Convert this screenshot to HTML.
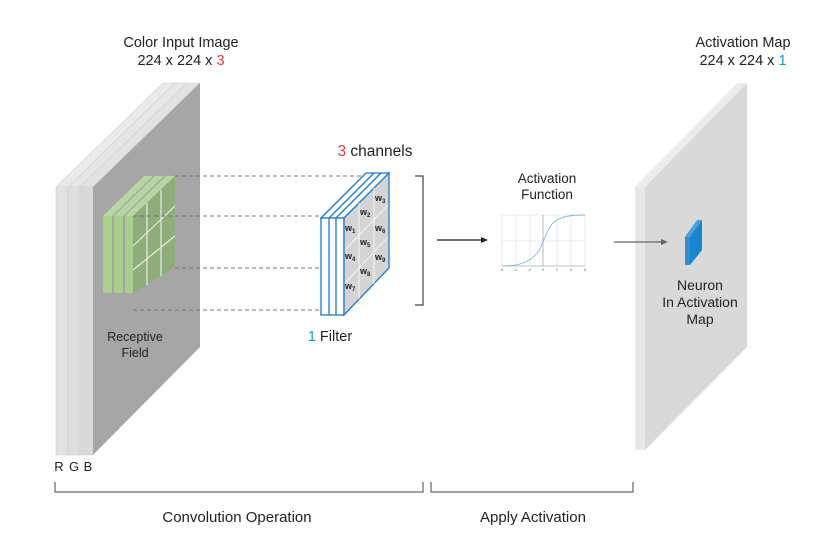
<!DOCTYPE html>
<html><head><style>
body{margin:0;background:#fff;}
svg text{font-family:"Liberation Sans",sans-serif;}
</style></head><body>
<svg width="833" height="550" viewBox="0 0 833 550" xmlns="http://www.w3.org/2000/svg">
<!-- input stack -->
<polygon points="56,187 163,83 175,83 68,187" fill="#eaeaea" stroke="#d0d0d0" stroke-width="0.6"/>
<polygon points="56,187 68,187 68,455 56,455" fill="#e2e2e2" stroke="#d0d0d0" stroke-width="0.6"/>
<polygon points="68,187 175,83 187,83 80,187" fill="#e6e6e6" stroke="#d0d0d0" stroke-width="0.6"/>
<polygon points="68,187 80,187 80,455 68,455" fill="#dedede" stroke="#d0d0d0" stroke-width="0.6"/>
<polygon points="80,187 187,83 200,83 93,187" fill="#e2e2e2" stroke="#d0d0d0" stroke-width="0.6"/>
<polygon points="80,187 93,187 93,455 80,455" fill="#d9d9d9" stroke="#d0d0d0" stroke-width="0.6"/>
<polygon points="93,187 200,83 200,347 93,455" fill="#a6a6a6"/>
<!-- receptive field -->
<polygon points="103,216 144,176 153,176 112,216" fill="#b7d7a0"/>
<rect x="103" y="216" width="9" height="77" fill="#a9d08e"/>
<polygon points="114,216 155,176 164,176 123,216" fill="#b7d7a0"/>
<rect x="114" y="216" width="9" height="77" fill="#a9d08e"/>
<polygon points="125,216 166,176 175,176 133,216" fill="#b7d7a0"/>
<rect x="125" y="216" width="8" height="77" fill="#a9d08e"/>
<polygon points="133,216 175,176 175,267 133,293" fill="#8fac7b"/>
<g stroke="#e8f0e0" stroke-width="1.2">
<line x1="147" y1="203" x2="147" y2="285"/><line x1="161" y1="190" x2="161" y2="276"/>
<line x1="133" y1="246" x2="175" y2="206"/><line x1="133" y1="270" x2="175" y2="236"/>
</g>
<!-- dashed lines -->
<g stroke="#777" stroke-width="1" stroke-dasharray="4,3">
<line x1="175" y1="176" x2="362" y2="176"/>
<line x1="133" y1="216" x2="320" y2="216"/>
<line x1="175" y1="268" x2="320" y2="268"/>
<line x1="133" y1="310" x2="320" y2="310"/>
</g>
<!-- filter -->
<g stroke="#1f78c8" stroke-width="1.3" fill="#fff">
<polygon points="321,218 366,173 389,173 344,218"/>
<rect x="321" y="218" width="23" height="97"/>
<line x1="329" y1="218" x2="329" y2="315"/><line x1="336" y1="218" x2="336" y2="315"/>
<line x1="329" y1="218" x2="374" y2="173"/><line x1="336" y1="218" x2="381" y2="173"/>
<polygon points="344,218 389,173 389,268 344,315" fill="#d4d4d4"/>
</g>
<g stroke="#f4f4f4" stroke-width="1">
<line x1="359" y1="203" x2="359" y2="299"/><line x1="374" y1="188" x2="374" y2="284"/>
<line x1="345" y1="250" x2="388" y2="205"/><line x1="345" y1="283" x2="388" y2="237"/>
</g>
<g font-size="9" font-weight="bold" fill="#222">
<text x="345" y="231">w<tspan font-size="6" dy="2">1</tspan></text>
<text x="360" y="215">w<tspan font-size="6" dy="2">2</tspan></text>
<text x="375" y="201">w<tspan font-size="6" dy="2">3</tspan></text>
<text x="345" y="259">w<tspan font-size="6" dy="2">4</tspan></text>
<text x="360" y="245">w<tspan font-size="6" dy="2">5</tspan></text>
<text x="375" y="231">w<tspan font-size="6" dy="2">6</tspan></text>
<text x="345" y="289">w<tspan font-size="6" dy="2">7</tspan></text>
<text x="360" y="274">w<tspan font-size="6" dy="2">8</tspan></text>
<text x="375" y="260">w<tspan font-size="6" dy="2">9</tspan></text>
</g>
<!-- bracket -->
<path d="M415,176 H423 V305 H415" fill="none" stroke="#444" stroke-width="1.2"/>
<line x1="437" y1="240" x2="482" y2="240" stroke="#222" stroke-width="1.2"/>
<polygon points="488,240 481,237 481,243" fill="#222"/>
<!-- sigmoid chart -->
<g stroke="#ddd" stroke-width="0.6">
<line x1="502" y1="215" x2="502" y2="266"/><line x1="516" y1="215" x2="516" y2="266"/>
<line x1="530" y1="215" x2="530" y2="266"/><line x1="557" y1="215" x2="557" y2="266"/>
<line x1="571" y1="215" x2="571" y2="266"/><line x1="585" y1="215" x2="585" y2="266"/>
<line x1="502" y1="215" x2="585" y2="215"/><line x1="502" y1="241" x2="585" y2="241"/>
</g>
<line x1="543" y1="215" x2="543" y2="266" stroke="#888" stroke-width="0.6"/>
<line x1="502" y1="266" x2="585" y2="266" stroke="#888" stroke-width="0.6"/>
<path d="M502,266 C520,266 530,262 538,252 C543,244 546,232 552,224 C560,216 570,215 585,215" fill="none" stroke="#8ab4d8" stroke-width="0.9"/>
<g font-size="3.5" fill="#555"><text x="500" y="271">-6</text><text x="514" y="271">-4</text><text x="528" y="271">-2</text><text x="542" y="271">0</text><text x="556" y="271">2</text><text x="570" y="271">4</text><text x="584" y="271">6</text></g>
<!-- activation map -->
<polygon points="635,187 737,83 747,83 645,187" fill="#ececec"/>
<rect x="635" y="187" width="10" height="263" fill="#e8e8e8"/>
<polygon points="645,187 747,83 747,347 645,450" fill="#d9d9d9"/>
<polygon points="685,237 697,220 702,220 690,237" fill="#4aa0d8"/>
<polygon points="685,237 690,237 690,265 685,265" fill="#2f8fd0"/>
<polygon points="690,237 702,220 702,250 690,265" fill="#1a85cf"/>
<line x1="614" y1="242" x2="662" y2="242" stroke="#666" stroke-width="1.2"/>
<polygon points="668,242 661,239 661,245" fill="#666"/>
<!-- labels -->
<g font-size="14.5" fill="#222" text-anchor="middle">
<text x="181" y="47">Color Input Image</text>
<text x="181" y="65">224 x 224 x <tspan fill="#e53a3a">3</tspan></text>
<text x="743" y="47">Activation Map</text>
<text x="743" y="65">224 x 224 x <tspan fill="#1a96d4">1</tspan></text>
<text x="375" y="156" font-size="15.5"><tspan fill="#e53a3a">3</tspan> channels</text>
<text x="330" y="341" font-size="14.5"><tspan fill="#1a96d4">1</tspan> Filter</text>
<text x="547" y="183" font-size="13.5">Activation</text>
<text x="547" y="199" font-size="13.5">Function</text>
<text x="135" y="341" font-size="12.5">Receptive</text>
<text x="135" y="357" font-size="12.5">Field</text>
<text x="700" y="290" font-size="14">Neuron</text>
<text x="700" y="307" font-size="14">In Activation</text>
<text x="700" y="324" font-size="14">Map</text>
<text x="59" y="471" font-size="13">R</text>
<text x="74" y="471" font-size="13">G</text>
<text x="88" y="471" font-size="13">B</text>
<text x="237" y="522" font-size="15">Convolution Operation</text>
<text x="533" y="522" font-size="15">Apply Activation</text>
</g>
<path d="M55,482 V492 H423 V482 M431,482 V492 H633 V482" fill="none" stroke="#444" stroke-width="1"/>
</svg>
</body></html>
